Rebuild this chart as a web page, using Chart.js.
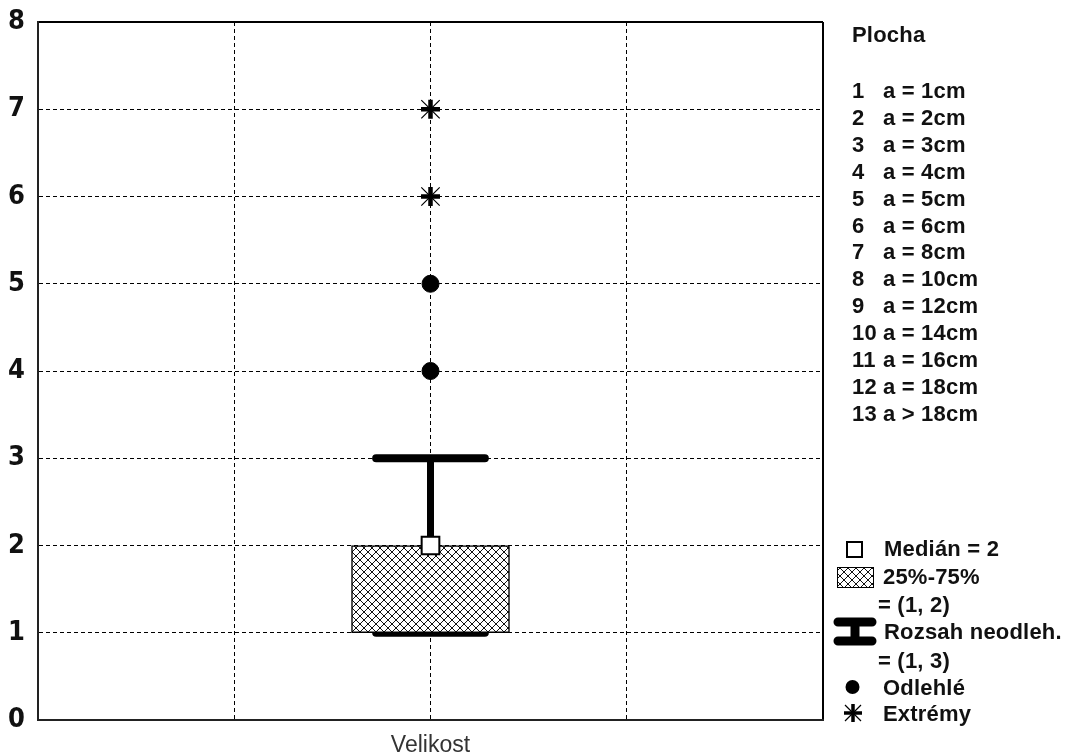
<!DOCTYPE html>
<html>
<head>
<meta charset="utf-8">
<script src="https://cdn.jsdelivr.net/npm/chart.js@4.4.1/dist/chart.umd.min.js"></script>
<style>
  body { margin: 0; background: #fff; }
  #wrap { position: relative; width: 1071px; height: 754px; }
  #chart { position: absolute; left: 0; top: 0; }
  .lg { position: absolute; font: bold 22px "Liberation Sans", Arial, sans-serif; color: #111;
        white-space: pre; line-height: 27px; height: 27px; letter-spacing: 0.2px; }
  .num { display: inline-block; width: 31px; }
</style>
</head>
<body>
<div id="wrap">
  <canvas id="chart" width="1071" height="754"></canvas>
  <div id="legend"></div>
</div>
<script>
// data
const categories = ['Velikost'];
const quartiles = [1, 2];      // 25%-75%
const medians = [2];
const whiskers = [1, 3];       // non-outlier range
const outliers = [4, 5];
const extremes = [6, 7];
const yTicks = [0, 1, 2, 3, 4, 5, 6, 7, 8];

const legendTitle = 'Plocha';
const areaCodes = ['1', '2', '3', '4', '5', '6', '7', '8', '9', '10', '11', '12', '13'];
const areaLabels = ['a = 1cm', 'a = 2cm', 'a = 3cm', 'a = 4cm', 'a = 5cm', 'a = 6cm', 'a = 8cm',
                    'a = 10cm', 'a = 12cm', 'a = 14cm', 'a = 16cm', 'a = 18cm', 'a > 18cm'];
const keyLabels = ['Medián = 2', '25%-75%', '= (1, 2)', 'Rozsah neodleh.', '= (1, 3)', 'Odlehlé', 'Extrémy'];

// category sits in the middle of a 0..4 axis
const CAT_X = 2;
const CAP = 0.277;

const canvas = document.getElementById('chart');
const ctx = canvas.getContext('2d');

function hatchPattern() {
    const c = document.createElement('canvas');
    c.width = 8; c.height = 8;
    const g = c.getContext('2d');
    g.fillStyle = '#fff';
    g.fillRect(0, 0, 8, 8);
    g.strokeStyle = '#111';
    g.lineWidth = 1;
    g.beginPath();
    g.moveTo(-1, -1); g.lineTo(9, 9);
    g.moveTo(9, -1); g.lineTo(-1, 9);
    g.stroke();
    return ctx.createPattern(c, 'repeat');
}
const hatch = hatchPattern();

const capLine = v => [{ x: CAT_X - CAP, y: v }, { x: CAT_X + CAP, y: v }];
const atCat = vals => vals.map(v => ({ x: CAT_X, y: v }));

// legend symbols, drawn next to the html text
const legendIcons = {
    id: 'legendIcons',
    afterDraw(chart) {
        const c = chart.ctx;
        c.save();
        // median square
        c.fillStyle = '#fff';
        c.strokeStyle = '#000';
        c.lineWidth = 2;
        c.fillRect(847, 542, 15, 15);
        c.strokeRect(847, 542, 15, 15);
        // box
        c.fillStyle = hatch;
        c.fillRect(837, 567, 37, 21);
        c.lineWidth = 1;
        c.strokeRect(837.5, 567.5, 36, 20);
        // whisker
        c.lineCap = 'round';
        c.lineWidth = 9;
        c.beginPath();
        c.moveTo(838, 622); c.lineTo(872, 622);
        c.moveTo(838, 641); c.lineTo(872, 641);
        c.stroke();
        c.lineCap = 'butt';
        c.lineWidth = 9;
        c.beginPath();
        c.moveTo(855, 622); c.lineTo(855, 641);
        c.stroke();
        // outlier
        c.fillStyle = '#000';
        c.beginPath();
        c.arc(852.5, 687, 7, 0, Math.PI * 2);
        c.fill();
        // extreme
        c.lineWidth = 3.5;
        c.beginPath();
        c.moveTo(853, 704); c.lineTo(853, 722);
        c.moveTo(844, 713); c.lineTo(862, 713);
        c.stroke();
        c.lineWidth = 1.2;
        c.beginPath();
        c.moveTo(845, 705); c.lineTo(861, 721);
        c.moveTo(861, 705); c.lineTo(845, 721);
        c.stroke();
        c.restore();
    }
};

const solidAt = (ctx, max) => ctx.tick && (ctx.tick.value === 0 || ctx.tick.value === max);

new Chart(canvas, {
    type: 'scatter',
    data: {
        datasets: [
            { type: 'line', data: capLine(whiskers[0]), borderColor: '#000', borderWidth: 8,
              borderCapStyle: 'round', pointRadius: 0, order: 6 },
            { type: 'bar', data: [{ x: CAT_X, y: quartiles }], backgroundColor: hatch,
              borderColor: '#000', borderWidth: 1.5, borderSkipped: false, barThickness: 158,
              grouped: false, order: 5 },
            { type: 'line', data: [{ x: CAT_X, y: medians[0] }, { x: CAT_X, y: whiskers[1] }],
              borderColor: '#000', borderWidth: 7, pointRadius: 0, order: 4 },
            { type: 'line', data: capLine(whiskers[1]), borderColor: '#000', borderWidth: 8,
              borderCapStyle: 'round', pointRadius: 0, order: 4 },
            { data: atCat(medians), pointStyle: 'rect', pointRadius: 12.5, backgroundColor: '#fff',
              borderColor: '#000', borderWidth: 2, order: 1 },
            { data: atCat(outliers), pointStyle: 'circle', pointRadius: 8.5, backgroundColor: '#000',
              borderColor: '#000', borderWidth: 1, order: 1 },
            { data: atCat(extremes), pointStyle: 'cross', pointRadius: 9.5, borderColor: '#000',
              borderWidth: 4.5, order: 1 },
            { data: atCat(extremes), pointStyle: 'crossRot', pointRadius: 13, borderColor: '#000',
              borderWidth: 1.2, order: 1 }
        ]
    },
    options: {
        responsive: false,
        animation: false,
        layout: { padding: { top: 22, right: 248, left: 0, bottom: 0 } },
        plugins: { legend: { display: false }, tooltip: { enabled: false } },
        scales: {
            x: {
                type: 'linear', min: 0, max: 4, offset: false,
                afterFit: s => { s.height = 34; s.paddingLeft = 0; s.paddingRight = 0; },
                grid: {
                    offset: false, drawTicks: false, color: '#000',
                    lineWidth: c => (c.tick && c.tick.value === 4 ? 2 : 1)
                },
                border: { display: true, color: '#222', width: 2,
                          dash: c => (solidAt(c, 4) ? [] : [4, 3]) },
                ticks: {
                    stepSize: 1, autoSkip: false, maxRotation: 0, padding: 12,
                    color: '#333', font: { family: '"Liberation Sans", Arial', size: 23 },
                    callback: v => (v === CAT_X ? categories[0] : '')
                }
            },
            y: {
                min: yTicks[0], max: yTicks[yTicks.length - 1],
                afterFit: s => { s.width = 38; s.paddingTop = 0; s.paddingBottom = 0; },
                afterBuildTicks: s => { s.ticks = yTicks.map(v => ({ value: v })); },
                grid: {
                    drawTicks: false, color: '#000',
                    lineWidth: c => (c.tick && c.tick.value === 8 ? 2 : 1)
                },
                border: { display: true, color: '#222', width: 2,
                          dash: c => (solidAt(c, 8) ? [] : [4, 3]) },
                ticks: {
                    padding: 13, color: '#111',
                    font: { family: '"Liberation Sans Narrow", "DejaVu Sans Condensed", Arial', size: 27, weight: 'bold' }
                }
            }
        }
    },
    plugins: [legendIcons]
});

// legend text
const lg = document.getElementById('legend');
function addText(html, left, centerY) {
    const d = document.createElement('div');
    d.className = 'lg';
    d.style.left = left + 'px';
    d.style.top = (centerY - 13.5) + 'px';
    d.innerHTML = html;
    lg.appendChild(d);
}
addText(legendTitle, 852, 34.5);
areaCodes.forEach((code, i) => {
    addText('<span class="num">' + code + '</span>' + areaLabels[i], 852, 90.5 + i * 26.9);
});
const keyPos = [[884, 548], [883, 576], [878, 604], [884, 631], [878, 660], [883, 687], [883, 713]];
keyLabels.forEach((t, i) => addText(t, keyPos[i][0], keyPos[i][1]));
</script>
</body>
</html>
